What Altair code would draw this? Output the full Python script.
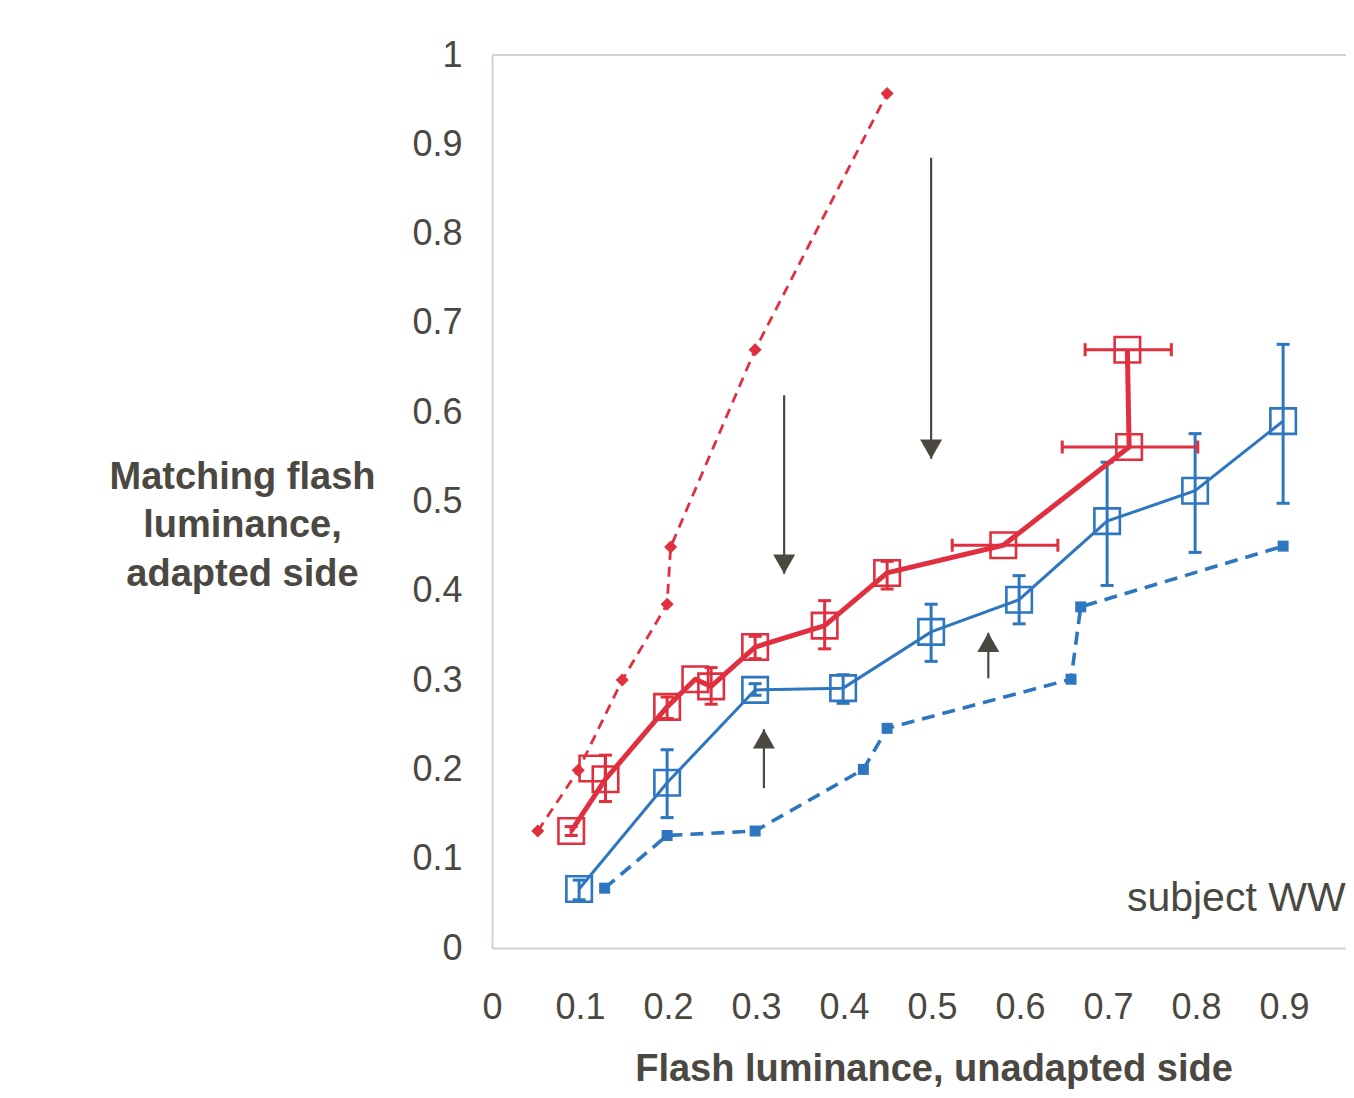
import altair as alt
import pandas as pd

# ---------------- data ----------------
# red dashed series (diamond markers)
rd_x = [0.052, 0.098, 0.148, 0.199, 0.203, 0.299, 0.449]
rd_y = [0.131, 0.199, 0.300, 0.385, 0.449, 0.670, 0.957]

# red solid series (open squares), drawn in this order; conn = joined by the line
rs_x = [0.090, 0.114, 0.129, 0.199, 0.231, 0.249, 0.299, 0.378, 0.449, 0.581, 0.724, 0.722]
rs_y = [0.131, 0.201, 0.189, 0.270, 0.301, 0.293, 0.337, 0.361, 0.420, 0.451, 0.561, 0.670]
rs_conn = [True, False, True, True, True, True, True, True, True, True, True, True]

# red vertical error bars
rev_x = [0.090, 0.129, 0.199, 0.249, 0.299, 0.378, 0.449]
rev_lo = [0.126, 0.164, 0.257, 0.273, 0.324, 0.335, 0.402]
rev_hi = [0.136, 0.216, 0.281, 0.314, 0.349, 0.389, 0.433]

# red horizontal error bars
reh_y = [0.451, 0.561, 0.670]
reh_lo = [0.523, 0.648, 0.674]
reh_hi = [0.643, 0.802, 0.772]

# blue solid series (open squares) with vertical error bars
bs_x = [0.099, 0.199, 0.299, 0.399, 0.499, 0.599, 0.699, 0.799, 0.899]
bs_y = [0.066, 0.185, 0.289, 0.291, 0.354, 0.390, 0.478, 0.512, 0.590]
bs_lo = [0.054, 0.146, 0.283, 0.274, 0.321, 0.363, 0.406, 0.443, 0.498]
bs_hi = [0.076, 0.222, 0.296, 0.306, 0.385, 0.417, 0.544, 0.576, 0.676]

# blue dashed series (small filled squares)
bd_x = [0.128, 0.199, 0.299, 0.422, 0.449, 0.658, 0.669, 0.899]
bd_y = [0.067, 0.126, 0.131, 0.200, 0.246, 0.301, 0.382, 0.450]

# annotation arrows
arr_x = [0.332, 0.499, 0.309, 0.564]
arr_from = [0.619, 0.885, 0.179, 0.302]
arr_to = [0.419, 0.548, 0.245, 0.353]
arr_dir = ["down", "down", "up", "up"]

# annotation text
note_text = ["subject WW"]
note_x = [0.970]
note_y = [0.041]

x_ticks = [0, 0.1, 0.2, 0.3, 0.4, 0.5, 0.6, 0.7, 0.8, 0.9]
y_ticks = [0, 0.1, 0.2, 0.3, 0.4, 0.5, 0.6, 0.7, 0.8, 0.9, 1.0]
x_title = "Flash luminance, unadapted side"
y_title = ["Matching flash", "luminance,", "adapted side"]

# ---------------- styles ----------------
RED = "#e0303f"
BLUE = "#2e76bf"
DARK = "#4b4842"
FRAME = "#d6d1cb"
FONT = "Liberation Sans"

W, H = 854, 893
XS = alt.Scale(domain=[0, W / 880], nice=False, zero=False)
YS = alt.Scale(domain=[0, 1], nice=False, zero=False)

rd_df = pd.DataFrame({"x": rd_x, "y": rd_y})
rs_df = pd.DataFrame({"x": rs_x, "y": rs_y, "i": list(range(len(rs_x))), "conn": rs_conn})
rs_line_df = rs_df[rs_df["conn"]]
rev_df = pd.DataFrame({"x": rev_x, "lo": rev_lo, "hi": rev_hi})
reh_df = pd.DataFrame({"y": reh_y, "lo": reh_lo, "hi": reh_hi})
bs_df = pd.DataFrame({"x": bs_x, "y": bs_y, "lo": bs_lo, "hi": bs_hi})
bd_df = pd.DataFrame({"x": bd_x, "y": bd_y})
HEADS = {"down": "M-1,-1.75L1,-1.75L0,0Z", "up": "M-1,1.75L1,1.75L0,0Z"}
arr_df = pd.DataFrame({"x": arr_x, "y0": arr_from, "y1": arr_to,
                       "head": [HEADS[d] for d in arr_dir]})
note_df = pd.DataFrame({"t": note_text, "x": note_x, "y": note_y})
top_df = pd.DataFrame({"y": [1.0]})

xaxis = alt.Axis(
    values=x_ticks, format=".1~f", grid=False, ticks=False, tickSize=0,
    domainColor=FRAME, domainWidth=2,
    labelFont=FONT, labelFontSize=36, labelColor=DARK, labelPadding=42,
    labelFlush=False,
    title=x_title, titleFont=FONT, titleFontSize=38, titleFontWeight="bold",
    titleColor=DARK, titleX=441.5, titleY=132, titleAlign="center",
    titleBaseline="alphabetic", titleAnchor="start",
)
yaxis = alt.Axis(
    values=y_ticks, format=".1~f", grid=False, ticks=False, tickSize=0,
    domainColor=FRAME, domainWidth=2,
    labelFont=FONT, labelFontSize=36, labelColor=DARK, labelPadding=30,
    labelFlush=False,
    title=y_title, titleFont=FONT, titleFontSize=38, titleFontWeight="bold",
    titleColor=DARK, titleAngle=0, titleX=-250, titleY=422,
    titleAlign="center", titleBaseline="middle", titleLineHeight=48.5,
    titleAnchor="start",
)

def X(field="x"):
    return alt.X(f"{field}:Q", scale=XS, axis=xaxis)

def Y(field="y"):
    return alt.Y(f"{field}:Q", scale=YS, axis=yaxis)

# frame top line
top_line = alt.Chart(top_df).mark_rule(color=FRAME, strokeWidth=2).encode(y=Y("y"))

# blue dashed
bd_line = alt.Chart(bd_df).mark_line(color=BLUE, strokeWidth=3.6, strokeDash=[13, 8]).encode(
    x=X(), y=Y())
bd_pts = alt.Chart(bd_df).mark_point(shape="square", filled=True, size=121,
                                     color=BLUE, opacity=1).encode(x=X(), y=Y())

# blue solid with error bars
bs_err = alt.Chart(bs_df).mark_rule(color=BLUE, strokeWidth=3).encode(
    x=X(), y=Y("lo"), y2="hi:Q")
bs_caps = alt.Chart(bs_df).transform_fold(["lo", "hi"], as_=["k", "v"]).mark_rule(
    color=BLUE, strokeWidth=3, xOffset=-6.5, x2Offset=6.5).encode(
    x=X(), x2="x:Q", y=Y("v"))
bs_line = alt.Chart(bs_df).mark_line(color=BLUE, strokeWidth=3).encode(x=X(), y=Y())
bs_pts = alt.Chart(bs_df).mark_point(shape="square", filled=False, size=650,
                                     strokeWidth=2.6, color=BLUE, opacity=1).encode(x=X(), y=Y())

# red dashed
rd_line = alt.Chart(rd_df).mark_line(color=RED, strokeWidth=2.8, strokeDash=[10, 7]).encode(
    x=X(), y=Y())
rd_pts = alt.Chart(rd_df).mark_point(shape="diamond", filled=True, size=170,
                                     color=RED, opacity=1).encode(x=X(), y=Y())

# red error bars
rev_err = alt.Chart(rev_df).mark_rule(color=RED, strokeWidth=3).encode(
    x=X(), y=Y("lo"), y2="hi:Q")
rev_caps = alt.Chart(rev_df).transform_fold(["lo", "hi"], as_=["k", "v"]).mark_rule(
    color=RED, strokeWidth=3, xOffset=-6.5, x2Offset=6.5).encode(
    x=X(), x2="x:Q", y=Y("v"))
reh_err = alt.Chart(reh_df).mark_rule(color=RED, strokeWidth=3).encode(
    x=X("lo"), x2="hi:Q", y=Y())
reh_caps = alt.Chart(reh_df).transform_fold(["lo", "hi"], as_=["k", "v"]).mark_rule(
    color=RED, strokeWidth=3, yOffset=-6.5, y2Offset=6.5).encode(
    x=X("v"), y=Y(), y2="y:Q")

# red solid
rs_line = alt.Chart(rs_line_df).mark_line(color=RED, strokeWidth=5, strokeJoin="round").encode(
    x=X(), y=Y(), order="i:Q")
rs_pts = alt.Chart(rs_df).mark_point(shape="square", filled=False, size=650,
                                     strokeWidth=2.6, color=RED, opacity=1).encode(x=X(), y=Y())

# arrows
arr_shaft = alt.Chart(arr_df).mark_rule(color=DARK, strokeWidth=2.2).encode(
    x=X(), y=Y("y0"), y2="y1:Q")
arr_head = alt.Chart(arr_df).mark_point(filled=True, size=484, color=DARK, opacity=1,
                                        strokeWidth=0).encode(
    x=X(), y=Y("y1"), shape=alt.Shape("head:N", scale=None, legend=None))

note = alt.Chart(note_df).mark_text(font=FONT, fontSize=41, color=DARK, align="right",
                                    baseline="alphabetic").encode(
    x=X(), y=Y(), text="t:N")

chart = alt.layer(
    top_line, bd_line, bd_pts, bs_err, bs_caps, bs_line, bs_pts,
    rd_line, rd_pts, rev_err, rev_caps, reh_err, reh_caps, rs_line, rs_pts,
    arr_shaft, arr_head, note,
).properties(
    width=W, height=H,
    autosize=alt.AutoSizeParams(type="none"),
    padding={"left": 484, "top": 47, "right": 0, "bottom": 142},
    background="white",
).configure_view(stroke=None)

chart.save("out.html", embed_options={"renderer": "svg", "actions": False})
